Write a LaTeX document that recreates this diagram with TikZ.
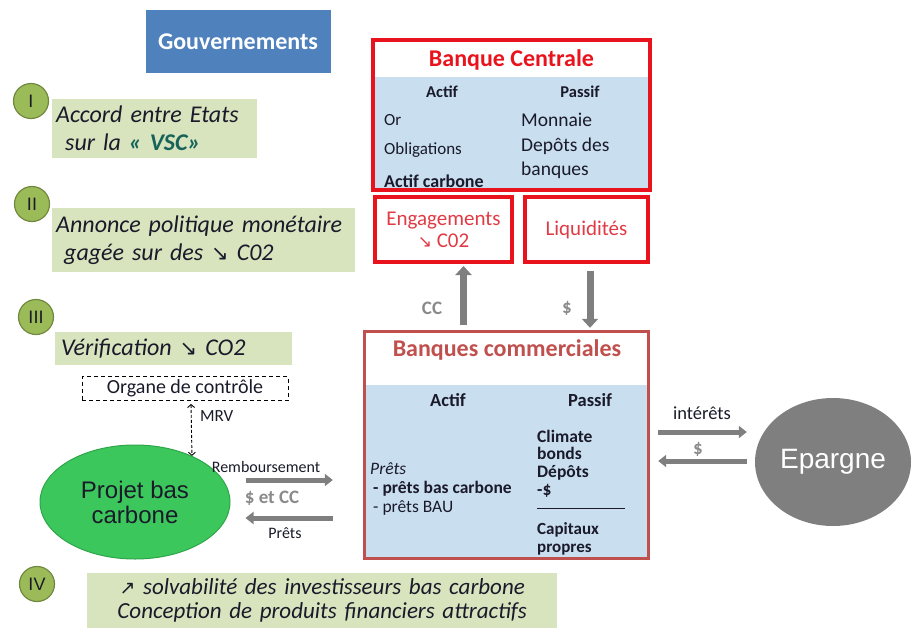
\documentclass[tikz,border=0pt]{standalone}
\usepackage{fontspec}
\setmainfont{Carlito}
\newfontfamily\arial{Liberation Sans}
\newfontfamily\fleches{DejaVu Sans}
\usetikzlibrary{calc}
\usetikzlibrary{shapes.geometric}
\usetikzlibrary{arrows.meta}
\definecolor{bleugouv}{HTML}{4F81BD}
\definecolor{vertclair}{HTML}{D7E4BD}
\definecolor{vertetape}{HTML}{9BBB59}
\definecolor{vertfonce}{HTML}{71893F}
\definecolor{vertprojet}{HTML}{3CC75C}
\definecolor{vertprojetfonce}{HTML}{2FA54A}
\definecolor{bleuclair}{HTML}{C9DFF0}
\definecolor{rougevif}{HTML}{E8131C}
\definecolor{rougetexte}{HTML}{E03A44}
\definecolor{rougebrique}{HTML}{C0504D}
\definecolor{grisfleche}{HTML}{7F7F7F}
\definecolor{grislabel}{HTML}{8A8A8A}
\definecolor{texte}{HTML}{1A1A2A}
\definecolor{vsc}{HTML}{17635A}
\newcommand{\taille}[2]{\fontsize{#1}{#2}\selectfont}

\begin{document}
\begin{tikzpicture}[x=1pt,y=-1pt,
		etape/.style={circle,fill=vertetape,draw=vertfonce,line width=1.2pt,
			minimum size=35pt,inner sep=0pt,font=\arial\taille{18}{20},text=texte},
		bandeau/.style={fill=vertclair,inner xsep=4pt,inner ysep=0pt,anchor=north west,
			font=\itshape\taille{24}{28},text=texte,align=left},
		cadre/.style={draw=rougevif,line width=4pt,inner sep=0pt,outer sep=0pt},
		titre/.style={font=\bfseries\taille{24}{26},inner sep=0pt},
		entete/.style={font=\bfseries\taille{16.5}{18},text=texte,inner sep=0pt},
		poste/.style={font=\taille{17}{19},text=texte,inner sep=0pt,anchor=west},
		petit/.style={font=\taille{16}{18},text=texte,inner sep=0pt},
		gris/.style={font=\bfseries\taille{19}{21},text=grislabel,inner sep=0pt},
		fleche/.style={draw=grisfleche,line width=7pt,-{Triangle[length=9pt,width=16pt]}},
		fleche fine/.style={draw=grisfleche,line width=5pt,-{Triangle[length=8pt,width=12pt]}},
		mrv/.style={draw=black,line width=0.9pt,dash pattern=on 3pt off 2pt,
			{Straight Barb[length=3pt,width=7pt]}-{Straight Barb[length=3pt,width=7pt]}}]

		\useasboundingbox (0,0) rectangle (915,632);

		% Gouvernements
		\node [fill=bleugouv,minimum width=185,minimum height=63,inner sep=0pt,
			text=white,font=\bfseries\taille{24}{26}] (gouv) at (238,41.5) {Gouvernements};

		% Etapes I a IV
		\node [etape] (e1) at (31,101) {I};
		\node [etape] (e2) at (32,204) {II};
		\node [etape] (e3) at (36,317) {III};
		\node [etape] (e4) at (37,584) {IV};

		% Bandeaux verts
		\node [bandeau,text width=197,minimum height=59] (b1) at (52,99)
			{Accord entre Etats\\\hspace*{9pt}sur la {\color{vsc}\bfseries « VSC»}};
		\node [bandeau,text width=295,minimum height=64] (b2) at (52,208)
			{Annonce politique monétaire\\\hspace*{8pt}gagée sur des {\fleches\taille{21}{28}↘} C02};
		\node [bandeau,text width=229,minimum height=33] (b3) at (55,332)
			{\hspace*{2pt}Vérification {\fleches\taille{21}{28}↘} CO2};
		\node [bandeau,text width=462,minimum height=55,align=center,font=\itshape\taille{23}{24}] (b4) at (87,573)
			{{\fleches\taille{19}{24}↗} solvabilité des investisseurs bas carbone\\Conception de produits financiers attractifs};

		% Banque centrale
		\node [minimum width=277,minimum height=150,inner sep=0pt] (bc) at (511.5,115) {};
		\fill [bleuclair] (bc.south west) rectangle ($(bc.north east)+(0,37)$);
		\draw [cadre] (bc.south west) rectangle (bc.north east);
		\node [titre,text=rougevif] (bctitre) at (511.5,60) {Banque Centrale};
		\node [entete] (bcactif) at (442,92) {Actif};
		\node [entete] (bcpassif) at (580,92) {Passif};
		\node [poste] (or) at (384,120) {Or};
		\node [poste] (oblig) at (384,150) {Obligations};
		\node [poste,font=\bfseries\taille{18}{20}] (actcarb) at (384,181) {Actif carbone};
		\node [poste,font=\taille{19.5}{24}] (monnaie) at (521,120) {Monnaie};
		\node [poste,font=\taille{19.5}{24},align=left] (depots) at (521,158) {Depôts des\\banques};

		% Engagements et liquidites
		\node [cadre,minimum width=137,minimum height=65,align=center,text=rougetexte,
			font=\taille{21}{22}] (eng) at (443.5,229.5) {Engagements\\{\fleches\taille{17}{22}↘} C02};
		\node [cadre,minimum width=123,minimum height=65,text=rougetexte,
			font=\taille{21}{22}] (liq) at (586.5,229.5) {Liquidités};

		% Banques commerciales
		\node [minimum width=283,minimum height=226,inner sep=0pt] (bcom) at (506.5,445) {};
		\fill [bleuclair] (bcom.south west) rectangle ($(bcom.north east)+(0,53)$);
		\draw [draw=rougebrique,line width=3pt] (bcom.south west) rectangle (bcom.north east);
		\node [titre,text=rougebrique] (bcomtitre) at (507,350) {Banques commerciales};
		\node [entete,font=\bfseries\taille{18.5}{20}] (bcomactif) at (448,400) {Actif};
		\node [entete,font=\bfseries\taille{18.5}{20}] (bcompassif) at (590,400) {Passif};
		\node [poste,align=left,font=\taille{17.5}{19}] (prets) at (370,489)
			{{\itshape Prêts}\\\hspace*{3pt}\textbf{- prêts bas carbone}\\\hspace*{3pt}- prêts BAU};
		\node [poste,align=left,font=\bfseries\taille{17.5}{17.7}] (climate) at (537,463.5)
			{Climate\\bonds\\Dépôts\\-\$};
		\draw [texte,line width=1pt] (537,508) -- (625,508);
		\node [poste,align=left,font=\bfseries\taille{17}{18.5}] (capitaux) at (537,539)
			{Capitaux\\propres};

		% Flux avec la banque centrale
		\draw [fleche] ($(eng.south |- bcom.north)+(20,-7)$) -- ($(eng.south)+(20,4)$);
		\draw [fleche] ($(liq.south)+(3.5,9)$) -- ($(liq.south |- bcom.north)+(3.5,-4)$);
		\node [gris] (cc) at (432,308) {CC};
		\node [gris] (dollar) at (567,308) {\$};

		% Organe de controle et MRV
		\node [draw,line width=0.9pt,dash pattern=on 4pt off 3pt,minimum width=206,minimum height=24,
			inner sep=0pt,font=\taille{20}{22},text=texte] (org) at (185,388.5) {Organe de contrôle};

		% Projet bas carbone
		\node [ellipse,fill=vertprojet,draw=vertprojetfonce,line width=1pt,minimum width=190,
			minimum height=114,inner sep=0pt,align=center,font=\arial\taille{24}{25},text=texte]
			(projet) at (135,502) {Projet bas\\carbone};
		\draw [mrv] ($(org.south)+(6,3)$) -- (projet.39);
		\node [poste,font=\taille{17}{19}] (mrvlabel) at (200,416) {MRV};

		% Remboursement et prets
		\draw [fleche fine] ($(projet.east)+(15,-22)$) -- ($(bcom.west |- projet.east)+(-32,-22)$);
		\draw [fleche fine] ($(bcom.west |- projet.east)+(-32,16)$) -- ($(projet.east)+(15,16)$);
		\node [petit] (rembours) at (266,467) {Remboursement};
		\node [gris] (dollarcc) at (272,498) {\$ et CC};
		\node [petit] (pretslabel) at (285,533) {Prêts};

		% Epargne
		\node [ellipse,fill=grisfleche,minimum width=156,minimum height=128,inner sep=0pt,
			text=white,font=\arial\taille{28}{30}] (epargne) at (833,462) {Epargne};
		\draw [fleche fine] ($(bcom.east)+(10,-13)$) -- ($(epargne.west |- bcom.east)+(-8,-13)$);
		\draw [fleche fine] ($(epargne.west |- bcom.east)+(-8,16)$) -- ($(bcom.east)+(10,16)$);
		\node [petit,font=\taille{18.5}{20}] (interets) at (702,413) {intérêts};
		\node [gris,font=\bfseries\taille{19}{20}] (dollarep) at (698,449) {\$};

\end{tikzpicture}
\end{document}
